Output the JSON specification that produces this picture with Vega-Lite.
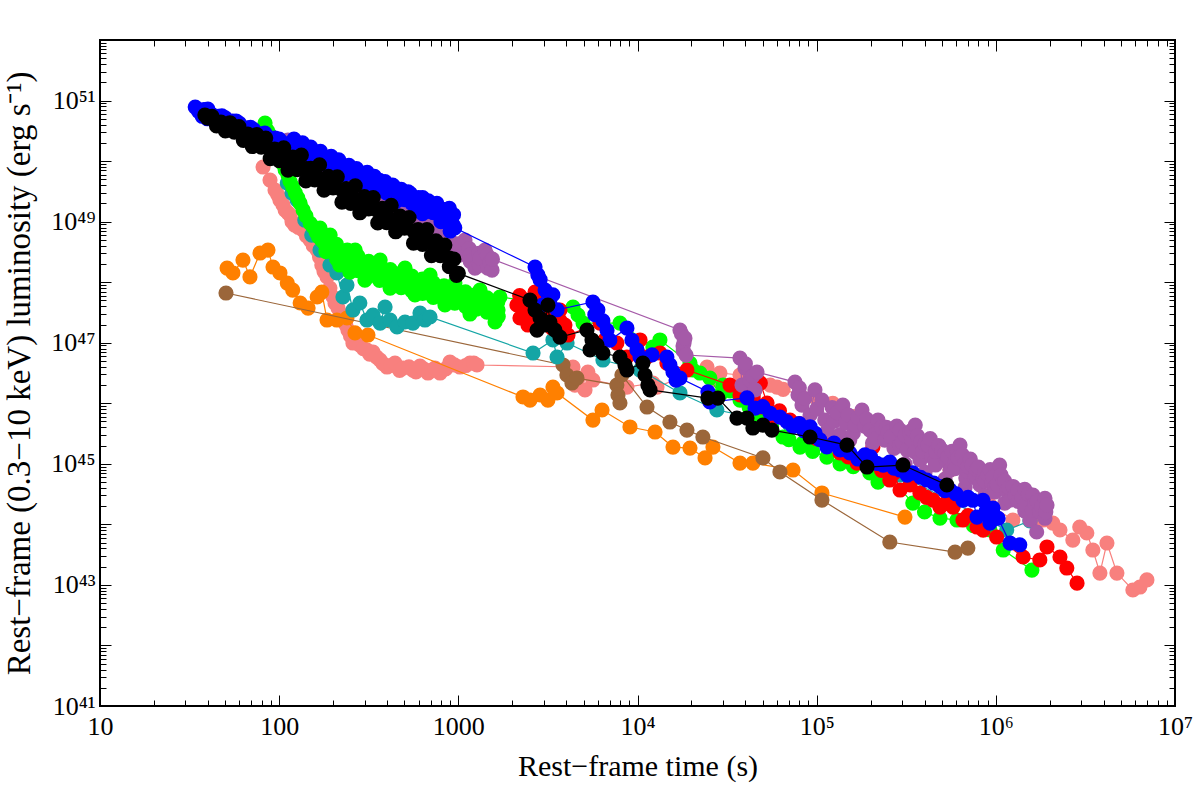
{
"$schema":"https://vega.github.io/schema/vega-lite/v6.json",
"width":1075,"height":666,
"autosize":{"type":"none"},
"padding":{"left":100,"top":40,"right":25,"bottom":84},
"background":"white",
"config":{"view":{"stroke":"black","strokeWidth":2},"axis":{"domain":false,"grid":false,"tickColor":"black","tickWidth":1,"labelColor":"black","titleColor":"black","labelFont":"Liberation Serif","titleFont":"Liberation Serif","titleFontWeight":"normal"}},
"datasets":{
"d":[
{"s":"salmon","t":81.3,"L":7.98e49},{"s":"salmon","t":88.9,"L":4.86e49},{"s":"salmon","t":94.8,"L":3.32e49},{"s":"salmon","t":98,"L":2.8e49},{"s":"salmon","t":101,"L":2.27e49},{"s":"salmon","t":105,"L":1.9e49},{"s":"salmon","t":108,"L":1.55e49},{"s":"salmon","t":112,"L":1.4e49},{"s":"salmon","t":115,"L":1.28e49},{"s":"salmon","t":118,"L":1.0e49},{"s":"salmon","t":122,"L":8.79e48},{"s":"salmon","t":128,"L":8.0e48},{"s":"salmon","t":136,"L":7.26e48},{"s":"salmon","t":142,"L":5.8e48},{"s":"salmon","t":149,"L":4.96e48},{"s":"salmon","t":155,"L":4.0e48},{"s":"salmon","t":163,"L":3.39e48},{"s":"salmon","t":168,"L":2.6e48},{"s":"salmon","t":173,"L":1.92e48},{"s":"salmon","t":178,"L":1.5e48},{"s":"salmon","t":185,"L":1.22e48},{"s":"salmon","t":192,"L":8.0e47},{"s":"salmon","t":200,"L":5.69e47},{"s":"salmon","t":205,"L":4.5e47},{"s":"salmon","t":213,"L":3.74e47},{"s":"salmon","t":220,"L":3.0e47},{"s":"salmon","t":227,"L":2.66e47},{"s":"salmon","t":235,"L":2.0e47},{"s":"salmon","t":242,"L":1.62e47},{"s":"salmon","t":250,"L":1.3e47},{"s":"salmon","t":258,"L":9.89e46},{"s":"salmon","t":270,"L":1.1e47},{"s":"salmon","t":282,"L":9.16e46},{"s":"salmon","t":295,"L":8.0e46},{"s":"salmon","t":309,"L":7.57e46},{"s":"salmon","t":320,"L":6.5e46},{"s":"salmon","t":334,"L":7.02e46},{"s":"salmon","t":350,"L":5.8e46},{"s":"salmon","t":366,"L":5.18e46},{"s":"salmon","t":380,"L":4.5e46},{"s":"salmon","t":400,"L":3.97e46},{"s":"salmon","t":420,"L":4.2e46},{"s":"salmon","t":443,"L":4.62e46},{"s":"salmon","t":470,"L":3.5e46},{"s":"salmon","t":491,"L":3.82e46},{"s":"salmon","t":530,"L":4.0e46},{"s":"salmon","t":558,"L":3.54e46},{"s":"salmon","t":580,"L":3.3e46},{"s":"salmon","t":611,"L":4.12e46},{"s":"salmon","t":640,"L":3.7e46},{"s":"salmon","t":677,"L":3.16e46},{"s":"salmon","t":710,"L":3.5e46},{"s":"salmon","t":741,"L":3.82e46},{"s":"salmon","t":791,"L":3.16e46},{"s":"salmon","t":850,"L":3.7e46},{"s":"salmon","t":898,"L":4.8e46},{"s":"salmon","t":950,"L":4.3e46},{"s":"salmon","t":1021,"L":3.97e46},{"s":"salmon","t":1100,"L":4.2e46},{"s":"salmon","t":1161,"L":4.62e46},{"s":"salmon","t":1220,"L":4.6e46},{"s":"salmon","t":1271,"L":4.29e46},
{"s":"salmon","t":4365,"L":3.97e46},{"s":"salmon","t":4477,"L":2.0e46},{"s":"salmon","t":4656,"L":2.61e46},{"s":"salmon","t":5093,"L":1.66e46},{"s":"salmon","t":5284,"L":3.28e46},{"s":"salmon","t":5640,"L":2.42e46},{"s":"salmon","t":8730,"L":1.85e46},{"s":"salmon","t":12190,"L":2.16e46},{"s":"salmon","t":12850,"L":1.85e46},{"s":"salmon","t":24430,"L":3.97e46},{"s":"salmon","t":27730,"L":2.42e46},{"s":"salmon","t":28840,"L":3.16e46},{"s":"salmon","t":37330,"L":2.93e46},{"s":"salmon","t":55000,"L":2.0e46},{"s":"salmon","t":60000,"L":1.85e46},{"s":"salmon","t":65000,"L":1.7e46},{"s":"salmon","t":80720,"L":1.37e46},{"s":"salmon","t":100000,"L":1.2e46},{"s":"salmon","t":123000,"L":1.0e46},{"s":"salmon","t":135000,"L":6.9e45},{"s":"salmon","t":160000,"L":6.0e45},{"s":"salmon","t":175000,"L":5.28e45},{"s":"salmon","t":234000,"L":4.06e45},{"s":"salmon","t":247000,"L":3.61e45},{"s":"salmon","t":300000,"L":3.0e45},{"s":"salmon","t":400000,"L":1.9e45},{"s":"salmon","t":555000,"L":7.9e44},{"s":"salmon","t":700000,"L":8.0e44},{"s":"salmon","t":927000,"L":2.1e44},{"s":"salmon","t":1245000,"L":1.18e44},{"s":"salmon","t":1500000,"L":1.6e44},{"s":"salmon","t":1830000,"L":1.18e44},{"s":"salmon","t":2080000,"L":1.05e44},{"s":"salmon","t":2280000,"L":8.07e43},{"s":"salmon","t":2690000,"L":5.5e43},{"s":"salmon","t":2940000,"L":9.04e43},{"s":"salmon","t":3220000,"L":7.2e43},{"s":"salmon","t":3480000,"L":3.77e43},{"s":"salmon","t":3810000,"L":1.57e43},{"s":"salmon","t":4170000,"L":4.92e43},{"s":"salmon","t":4740000,"L":1.57e43},{"s":"salmon","t":5820000,"L":8.24e42},{"s":"salmon","t":6370000,"L":9.23e42},{"s":"salmon","t":6970000,"L":1.21e43},

{"s":"orange","t":51.2,"L":1.71e48},{"s":"orange","t":55.2,"L":1.42e48},{"s":"orange","t":62.8,"L":2.32e48},{"s":"orange","t":68.7,"L":1.22e48},{"s":"orange","t":78.2,"L":3.03e48},{"s":"orange","t":86.6,"L":3.39e48},{"s":"orange","t":92.4,"L":1.78e48},{"s":"orange","t":101,"L":1.42e48},{"s":"orange","t":111,"L":9.68e47},{"s":"orange","t":119,"L":7.41e47},{"s":"orange","t":131,"L":4.53e47},{"s":"orange","t":145,"L":3.74e47},{"s":"orange","t":163,"L":5.69e47},{"s":"orange","t":173,"L":6.87e47},{"s":"orange","t":185,"L":2.37e47},{"s":"orange","t":210,"L":2.37e47},{"s":"orange","t":239,"L":2.56e47},{"s":"orange","t":265,"L":1.45e47},{"s":"orange","t":313,"L":1.34e47},{"s":"orange","t":2296,"L":1.27e46},{"s":"orange","t":2512,"L":1.13e46},{"s":"orange","t":2858,"L":1.37e46},{"s":"orange","t":3162,"L":1.13e46},{"s":"orange","t":3373,"L":1.85e46},{"s":"orange","t":3556,"L":1.48e46},{"s":"orange","t":5640,"L":5.28e45},{"s":"orange","t":6339,"L":7.74e45},{"s":"orange","t":9078,"L":4.06e45},{"s":"orange","t":12530,"L":3.35e45},{"s":"orange","t":15780,"L":1.89e45},{"s":"orange","t":19630,"L":1.82e45},{"s":"orange","t":23820,"L":1.25e45},{"s":"orange","t":26370,"L":1.89e45},{"s":"orange","t":37330,"L":1.03e45},{"s":"orange","t":44060,"L":1.03e45},{"s":"orange","t":73790,"L":7.9e44},{"s":"orange","t":107000,"L":3.3e44},{"s":"orange","t":311000,"L":1.32e44},

{"s":"brown","t":50.5,"L":6.62e47},{"s":"brown","t":3838,"L":4.29e46},{"s":"brown","t":4036,"L":2.93e46},{"s":"brown","t":4305,"L":2.16e46},{"s":"brown","t":4592,"L":2.61e46},{"s":"brown","t":7670,"L":2.0e46},{"s":"brown","t":7780,"L":1.37e46},{"s":"brown","t":7980,"L":1.01e46},{"s":"brown","t":8183,"L":2.93e46},{"s":"brown","t":11300,"L":8.67e45},{"s":"brown","t":15170,"L":4.9e45},{"s":"brown","t":18880,"L":3.61e45},{"s":"brown","t":23170,"L":2.77e45},{"s":"brown","t":50120,"L":1.25e45},{"s":"brown","t":62370,"L":7.33e44},{"s":"brown","t":107000,"L":2.52e44},{"s":"brown","t":256000,"L":5.11e43},{"s":"brown","t":592000,"L":3.49e43},{"s":"brown","t":698000,"L":4.06e43},

{"s":"cyan","t":111,"L":4.34e49},{"s":"cyan","t":118,"L":2.96e49},{"s":"cyan","t":126,"L":2.27e49},{"s":"cyan","t":139,"L":1.06e49},{"s":"cyan","t":152,"L":6.0e48},{"s":"cyan","t":169,"L":3.39e48},{"s":"cyan","t":192,"L":1.92e48},{"s":"cyan","t":210,"L":1.42e48},{"s":"cyan","t":227,"L":5.69e47},{"s":"cyan","t":239,"L":8.97e47},{"s":"cyan","t":258,"L":3.47e47},{"s":"cyan","t":282,"L":4.53e47},{"s":"cyan","t":309,"L":2.37e47},{"s":"cyan","t":334,"L":2.87e47},{"s":"cyan","t":366,"L":2.11e47},{"s":"cyan","t":390,"L":3.89e47},{"s":"cyan","t":416,"L":2.37e47},{"s":"cyan","t":455,"L":1.82e47},{"s":"cyan","t":504,"L":2.2e47},{"s":"cyan","t":558,"L":2.11e47},{"s":"cyan","t":611,"L":3.09e47},{"s":"cyan","t":651,"L":2.37e47},{"s":"cyan","t":695,"L":2.66e47},{"s":"cyan","t":2612,"L":6.76e46},{"s":"cyan","t":3373,"L":1.11e47},{"s":"cyan","t":3556,"L":5.81e46},{"s":"cyan","t":4045,"L":9.89e46},{"s":"cyan","t":6412,"L":5.18e46},{"s":"cyan","t":10330,"L":3.54e46},{"s":"cyan","t":17260,"L":1.48e46},{"s":"cyan","t":27730,"L":7.74e45},{"s":"cyan","t":70960,"L":4.37e45},{"s":"cyan","t":292000,"L":6.53e44},{"s":"cyan","t":1150000,"L":8.07e43},{"s":"cyan","t":1550000,"L":1.14e44},

{"s":"green","t":83.4,"L":4.25e50},{"s":"green","t":86,"L":3.2e50},{"s":"green","t":88.9,"L":2.69e50},{"s":"green","t":92,"L":2.0e50},{"s":"green","t":96,"L":1.52e50},{"s":"green","t":100,"L":1.2e50},{"s":"green","t":104,"L":9.27e49},{"s":"green","t":108,"L":7.2e49},{"s":"green","t":112,"L":5.87e49},{"s":"green","t":115,"L":4.6e49},{"s":"green","t":119,"L":3.75e49},{"s":"green","t":123,"L":3.0e49},{"s":"green","t":127,"L":2.47e49},{"s":"green","t":131,"L":2.0e49},{"s":"green","t":136,"L":1.55e49},{"s":"green","t":141,"L":1.25e49},{"s":"green","t":149,"L":9.38e48},{"s":"green","t":155,"L":8.2e48},{"s":"green","t":161,"L":6.65e48},{"s":"green","t":166,"L":5.6e48},{"s":"green","t":169,"L":7.84e48},{"s":"green","t":173,"L":4.91e48},{"s":"green","t":180,"L":4.3e48},{"s":"green","t":182,"L":5.5e48},{"s":"green","t":182.5,"L":3.2e48},{"s":"green","t":192,"L":3.66e48},{"s":"green","t":192.5,"L":6.0e48},{"s":"green","t":209,"L":4.2e48},{"s":"green","t":209.5,"L":2.4e48},{"s":"green","t":213,"L":3.03e48},{"s":"green","t":218,"L":1.92e48},{"s":"green","t":236,"L":2.5e48},{"s":"green","t":240,"L":3.4e48},{"s":"green","t":240.5,"L":1.95e48},{"s":"green","t":248,"L":1.47e48},{"s":"green","t":265,"L":2.15e48},{"s":"green","t":265.5,"L":3.39e48},{"s":"green","t":275,"L":2.7e48},{"s":"green","t":275.5,"L":1.55e48},{"s":"green","t":297,"L":1.85e48},{"s":"green","t":301,"L":1.08e48},{"s":"green","t":316,"L":2.2e48},{"s":"green","t":316.5,"L":1.26e48},{"s":"green","t":334,"L":1.58e48},{"s":"green","t":363,"L":1.86e48},{"s":"green","t":363.5,"L":1.07e48},{"s":"green","t":366,"L":2.32e48},{"s":"green","t":375,"L":1.42e48},{"s":"green","t":416,"L":8.0e47},{"s":"green","t":417,"L":1.62e48},{"s":"green","t":417.5,"L":9.3e47},{"s":"green","t":421,"L":1.26e48},{"s":"green","t":472,"L":1.13e48},{"s":"green","t":479,"L":1.41e48},{"s":"green","t":479.5,"L":8.1e47},{"s":"green","t":504,"L":1.71e48},{"s":"green","t":537,"L":1.0e48},{"s":"green","t":550,"L":1.26e48},{"s":"green","t":550.5,"L":7.2e47},{"s":"green","t":573,"L":6.14e47},{"s":"green","t":611,"L":8.97e47},{"s":"green","t":631,"L":1.12e48},{"s":"green","t":631.5,"L":6.5e47},{"s":"green","t":695,"L":8.0e47},{"s":"green","t":695.5,"L":1.31e48},{"s":"green","t":724,"L":9.8e47},{"s":"green","t":724.5,"L":5.6e47},{"s":"green","t":791,"L":7.14e47},{"s":"green","t":832,"L":8.7e47},{"s":"green","t":832.5,"L":5.0e47},{"s":"green","t":842,"L":4.2e47},{"s":"green","t":898,"L":6.37e47},{"s":"green","t":955,"L":7.8e47},{"s":"green","t":955.5,"L":4.5e47},{"s":"green","t":957,"L":9.68e47},{"s":"green","t":1021,"L":5.69e47},{"s":"green","t":1096,"L":6.9e47},{"s":"green","t":1096.5,"L":4.0e47},{"s":"green","t":1161,"L":5.07e47},{"s":"green","t":1161.5,"L":2.98e47},{"s":"green","t":1259,"L":6.3e47},{"s":"green","t":1259.5,"L":3.6e47},{"s":"green","t":1321,"L":4.53e47},{"s":"green","t":1321.5,"L":7.41e47},{"s":"green","t":1445,"L":5.5e47},{"s":"green","t":1445.5,"L":3.2e47},{"s":"green","t":1503,"L":4.04e47},{"s":"green","t":1603,"L":2.2e47},{"s":"green","t":1660,"L":4.7e47},{"s":"green","t":1665,"L":3.47e47},{"s":"green","t":1670,"L":2.7e47},{"s":"green","t":1706,"L":5.69e47},
{"s":"green","t":4365,"L":3.89e47},{"s":"green","t":4656,"L":2.87e47},{"s":"green","t":4966,"L":2.11e47},{"s":"green","t":7980,"L":2.11e47},{"s":"green","t":12190,"L":8.49e46},{"s":"green","t":13340,"L":1.11e47},{"s":"green","t":19630,"L":4.62e46},{"s":"green","t":20420,"L":3.54e46},{"s":"green","t":22330,"L":3.16e46},{"s":"green","t":25350,"L":2.61e46},{"s":"green","t":28840,"L":1.37e46},{"s":"green","t":30000,"L":2.0e46},{"s":"green","t":33000,"L":1.6e46},{"s":"green","t":37330,"L":1.13e46},{"s":"green","t":42000,"L":8.5e45},{"s":"green","t":48190,"L":5.28e45},{"s":"green","t":56000,"L":4.2e45},{"s":"green","t":64860,"L":2.77e45},{"s":"green","t":70000,"L":2.5e45},{"s":"green","t":80720,"L":1.89e45},{"s":"green","t":83750,"L":2.2e45},{"s":"green","t":95000,"L":1.6e45},{"s":"green","t":114000,"L":1.29e45},{"s":"green","t":135000,"L":1.0e45},{"s":"green","t":160000,"L":9.0e44},{"s":"green","t":198000,"L":7.05e44},{"s":"green","t":220000,"L":5.0e44},{"s":"green","t":256000,"L":6.05e44},{"s":"green","t":344000,"L":2.25e44},{"s":"green","t":400000,"L":1.6e44},{"s":"green","t":488000,"L":1.27e44},{"s":"green","t":607000,"L":1.18e44},{"s":"green","t":750000,"L":9.5e43},{"s":"green","t":927000,"L":8.07e43},{"s":"green","t":1100000,"L":3.77e43},{"s":"green","t":1590000,"L":1.76e43},

{"s":"red","t":2123,"L":4.2e47},{"s":"red","t":2200,"L":6.0e47},{"s":"red","t":2208,"L":2.56e47},{"s":"red","t":2300,"L":3.5e47},{"s":"red","t":2355,"L":5.07e47},{"s":"red","t":2447,"L":1.96e47},{"s":"red","t":2500,"L":2.8e47},{"s":"red","t":2600,"L":4.0e47},{"s":"red","t":2680,"L":6.87e47},{"s":"red","t":2900,"L":5.5e47},{"s":"red","t":3100,"L":2.5e47},{"s":"red","t":3334,"L":1.75e47},{"s":"red","t":3400,"L":3.0e47},{"s":"red","t":3690,"L":3.47e47},{"s":"red","t":3700,"L":2.3e47},{"s":"red","t":3935,"L":1.96e47},{"s":"red","t":4093,"L":1.34e47},{"s":"red","t":6180,"L":2.11e47},{"s":"red","t":6580,"L":1.11e47},{"s":"red","t":7670,"L":9.89e46},{"s":"red","t":8730,"L":5.81e46},{"s":"red","t":10330,"L":1.11e47},{"s":"red","t":11300,"L":5.81e46},{"s":"red","t":13340,"L":6.76e46},{"s":"red","t":14590,"L":4.62e46},{"s":"red","t":18880,"L":3.54e46},{"s":"red","t":32810,"L":2.0e46},{"s":"red","t":37330,"L":1.37e46},{"s":"red","t":40000,"L":1.6e46},{"s":"red","t":44000,"L":1.2e46},{"s":"red","t":48190,"L":8.67e45},{"s":"red","t":48500,"L":2.16e46},{"s":"red","t":52840,"L":1.01e46},{"s":"red","t":57020,"L":5.93e45},{"s":"red","t":62000,"L":7.5e45},{"s":"red","t":70960,"L":5.28e45},{"s":"red","t":80000,"L":4.6e45},{"s":"red","t":90000,"L":3.6e45},{"s":"red","t":100000,"L":2.6e45},{"s":"red","t":114000,"L":3.22e45},{"s":"red","t":125000,"L":2.4e45},{"s":"red","t":135000,"L":1.51e45},{"s":"red","t":150000,"L":1.3e45},{"s":"red","t":168000,"L":1.03e45},{"s":"red","t":190000,"L":1.2e45},{"s":"red","t":206000,"L":1.89e45},{"s":"red","t":230000,"L":7.8e44},{"s":"red","t":256000,"L":5.4e44},{"s":"red","t":270000,"L":7.0e44},{"s":"red","t":292000,"L":3.69e44},{"s":"red","t":332000,"L":4.47e44},{"s":"red","t":377000,"L":3.3e44},{"s":"red","t":410000,"L":2.8e44},{"s":"red","t":446000,"L":2.52e44},{"s":"red","t":488000,"L":1.93e44},{"s":"red","t":520000,"L":2.2e44},{"s":"red","t":555000,"L":2.52e44},{"s":"red","t":577000,"L":1.93e44},{"s":"red","t":655000,"L":1.18e44},{"s":"red","t":700000,"L":1.4e44},{"s":"red","t":785000,"L":9.04e43},{"s":"red","t":850000,"L":8.0e43},{"s":"red","t":1010000,"L":6.18e43},{"s":"red","t":1420000,"L":2.89e43},{"s":"red","t":1760000,"L":2.58e43},{"s":"red","t":1930000,"L":4.23e43},{"s":"red","t":2280000,"L":2.89e43},{"s":"red","t":2490000,"L":1.9e43},{"s":"red","t":2840000,"L":1.07e43},

{"s":"purple","t":112,"L":2.22e50},{"s":"purple","t":115,"L":1.26e50},{"s":"purple","t":122,"L":1.64e50},{"s":"purple","t":131,"L":1.41e50},{"s":"purple","t":131.5,"L":8.59e49},{"s":"purple","t":140,"L":1.1e50},{"s":"purple","t":140.5,"L":7.5e49},{"s":"purple","t":149,"L":1.04e50},{"s":"purple","t":169,"L":8.59e49},{"s":"purple","t":169.5,"L":6.58e49},{"s":"purple","t":180,"L":8.0e49},{"s":"purple","t":185,"L":5.5e49},{"s":"purple","t":205,"L":6.58e49},{"s":"purple","t":230,"L":5.5e49},{"s":"purple","t":235,"L":3.8e49},{"s":"purple","t":248,"L":4.86e49},{"s":"purple","t":280,"L":4.2e49},{"s":"purple","t":285,"L":2.8e49},{"s":"purple","t":301,"L":3.58e49},{"s":"purple","t":340,"L":2.9e49},{"s":"purple","t":345,"L":1.9e49},{"s":"purple","t":366,"L":2.27e49},{"s":"purple","t":410,"L":2.1e49},{"s":"purple","t":415,"L":1.4e49},{"s":"purple","t":443,"L":1.67e49},{"s":"purple","t":500,"L":1.6e49},{"s":"purple","t":505,"L":1.05e49},{"s":"purple","t":537,"L":1.28e49},{"s":"purple","t":600,"L":1.1e49},{"s":"purple","t":610,"L":7.2e48},{"s":"purple","t":651,"L":9.84e48},{"s":"purple","t":720,"L":8.5e48},{"s":"purple","t":730,"L":5.5e48},{"s":"purple","t":791,"L":6.0e48},{"s":"purple","t":842,"L":7.26e48},{"s":"purple","t":860,"L":5.8e48},{"s":"purple","t":870,"L":3.8e48},{"s":"purple","t":898,"L":4.96e48},{"s":"purple","t":957,"L":3.39e48},{"s":"purple","t":1000,"L":4.3e48},{"s":"purple","t":1010,"L":2.8e48},{"s":"purple","t":1021,"L":3.66e48},{"s":"purple","t":1089,"L":4.96e48},{"s":"purple","t":1150,"L":3.6e48},{"s":"purple","t":1161,"L":2.8e48},{"s":"purple","t":1165,"L":2.2e48},{"s":"purple","t":1239,"L":1.71e48},{"s":"purple","t":1300,"L":3.0e48},{"s":"purple","t":1310,"L":1.9e48},{"s":"purple","t":1321,"L":2.5e48},{"s":"purple","t":1409,"L":3.39e48},{"s":"purple","t":1450,"L":2.8e48},{"s":"purple","t":1460,"L":1.7e48},{"s":"purple","t":1503,"L":2.15e48},{"s":"purple","t":1542,"L":1.58e48},{"s":"purple","t":1550,"L":2.4e48},
{"s":"purple","t":17260,"L":1.62e47},{"s":"purple","t":17600,"L":1.4e47},{"s":"purple","t":17950,"L":8.8e46},{"s":"purple","t":18000,"L":7.4e46},{"s":"purple","t":18200,"L":1.0e47},{"s":"purple","t":18400,"L":1.19e47},{"s":"purple","t":18660,"L":6.26e46},{"s":"purple","t":37330,"L":5.58e46},{"s":"purple","t":38300,"L":2.0e46},{"s":"purple","t":39810,"L":3.82e46},{"s":"purple","t":40000,"L":4.5e46},{"s":"purple","t":42460,"L":2.42e46},{"s":"purple","t":44000,"L":2.8e46},{"s":"purple","t":45290,"L":1.66e46},{"s":"purple","t":46450,"L":3.28e46},{"s":"purple","t":75680,"L":2.24e46},{"s":"purple","t":78700,"L":1.37e46},{"s":"purple","t":80000,"L":1.8e46},{"s":"purple","t":82800,"L":9.35e45},{"s":"purple","t":86000,"L":1.2e46},{"s":"purple","t":91850,"L":6.4e45},{"s":"purple","t":97800,"L":1.66e46},{"s":"purple","t":100000,"L":8.0e45},{"s":"purple","t":107000,"L":1.13e46},{"s":"purple","t":111000,"L":5.28e45},{"s":"purple","t":115000,"L":3.5e45},{"s":"purple","t":122000,"L":8.5e45},{"s":"purple","t":125000,"L":5.0e45},{"s":"purple","t":130000,"L":7.0e45},{"s":"purple","t":135000,"L":3.0e45},{"s":"purple","t":140000,"L":9.35e45},{"s":"purple","t":145000,"L":4.8e45},{"s":"purple","t":150000,"L":6.4e45},{"s":"purple","t":153000,"L":2.47e45},{"s":"purple","t":160000,"L":3.2e45},{"s":"purple","t":164000,"L":4.37e45},{"s":"purple","t":170000,"L":5.8e45},{"s":"purple","t":179000,"L":7.74e45},{"s":"purple","t":185000,"L":4.2e45},{"s":"purple","t":190000,"L":5.5e45},{"s":"purple","t":198000,"L":3.61e45},{"s":"purple","t":205000,"L":2.2e45},{"s":"purple","t":210000,"L":3.0e45},{"s":"purple","t":215000,"L":2.6e45},{"s":"purple","t":220000,"L":5.28e45},{"s":"purple","t":230000,"L":4.0e45},{"s":"purple","t":240000,"L":2.47e45},{"s":"purple","t":245000,"L":4.0e45},{"s":"purple","t":250000,"L":3.3e45},{"s":"purple","t":260000,"L":2.8e45},{"s":"purple","t":270000,"L":1.8e45},{"s":"purple","t":280000,"L":4.2e45},{"s":"purple","t":290000,"L":2.0e45},{"s":"purple","t":292000,"L":3.61e45},{"s":"purple","t":300000,"L":2.3e45},{"s":"purple","t":311000,"L":2.95e45},{"s":"purple","t":311500,"L":1.0e45},{"s":"purple","t":320000,"L":1.69e45},{"s":"purple","t":330000,"L":3.3e45},{"s":"purple","t":340000,"L":2.47e45},{"s":"purple","t":341000,"L":3.6e45},{"s":"purple","t":353000,"L":1.58e45},{"s":"purple","t":355000,"L":4.37e45},{"s":"purple","t":365000,"L":2.9e45},{"s":"purple","t":377000,"L":1.16e45},{"s":"purple","t":380000,"L":2.3e45},{"s":"purple","t":390000,"L":1.6e45},{"s":"purple","t":402000,"L":2.09e45},{"s":"purple","t":402500,"L":7.2e44},{"s":"purple","t":418000,"L":2.04e45},{"s":"purple","t":430000,"L":2.6e45},{"s":"purple","t":440000,"L":1.3e45},{"s":"purple","t":457000,"L":1.12e45},{"s":"purple","t":460000,"L":9.55e44},{"s":"purple","t":461000,"L":1.6e45},{"s":"purple","t":480000,"L":2.0e45},{"s":"purple","t":500000,"L":1.69e45},{"s":"purple","t":520000,"L":1.48e45},{"s":"purple","t":520500,"L":5.6e44},{"s":"purple","t":530000,"L":1.1e45},{"s":"purple","t":540000,"L":1.3e45},{"s":"purple","t":555000,"L":7.9e44},{"s":"purple","t":570000,"L":1.6e45},{"s":"purple","t":590000,"L":1.0e45},{"s":"purple","t":592000,"L":8.3e44},{"s":"purple","t":610000,"L":1.6e45},{"s":"purple","t":615000,"L":1.25e45},{"s":"purple","t":631000,"L":2.04e45},{"s":"purple","t":650000,"L":1.4e45},{"s":"purple","t":673000,"L":1.05e45},{"s":"purple","t":673500,"L":4.1e44},{"s":"purple","t":680000,"L":5.82e44},{"s":"purple","t":690000,"L":7.5e44},{"s":"purple","t":700000,"L":9.0e44},{"s":"purple","t":720000,"L":1.2e45},{"s":"purple","t":736000,"L":9.55e44},{"s":"purple","t":764000,"L":5.9e44},{"s":"purple","t":770000,"L":6.5e44},{"s":"purple","t":780000,"L":8.0e44},{"s":"purple","t":800000,"L":8.8e44},{"s":"purple","t":815000,"L":4.47e44},{"s":"purple","t":850000,"L":5.8e44},{"s":"purple","t":869000,"L":7.4e44},{"s":"purple","t":869500,"L":3.0e44},{"s":"purple","t":870000,"L":5.2e44},{"s":"purple","t":904000,"L":6.53e44},{"s":"purple","t":930000,"L":8.0e44},{"s":"purple","t":950000,"L":4.8e44},{"s":"purple","t":960000,"L":6.0e44},{"s":"purple","t":989000,"L":4.2e44},{"s":"purple","t":990000,"L":3.42e44},{"s":"purple","t":1020000,"L":4.5e44},{"s":"purple","t":1050000,"L":9.55e44},{"s":"purple","t":1070000,"L":6.5e44},{"s":"purple","t":1100000,"L":5.4e44},{"s":"purple","t":1120000,"L":5.2e44},{"s":"purple","t":1121000,"L":2.24e44},{"s":"purple","t":1150000,"L":3.6e44},{"s":"purple","t":1180000,"L":4.0e44},{"s":"purple","t":1200000,"L":2.52e44},{"s":"purple","t":1250000,"L":4.2e44},{"s":"purple","t":1280000,"L":3.0e44},{"s":"purple","t":1330000,"L":3.69e44},{"s":"purple","t":1331000,"L":2.4e44},{"s":"purple","t":1400000,"L":2.8e44},{"s":"purple","t":1450000,"L":3.8e44},{"s":"purple","t":1451000,"L":1.66e44},{"s":"purple","t":1460000,"L":2.08e44},{"s":"purple","t":1520000,"L":3.2e44},{"s":"purple","t":1550000,"L":1.18e44},{"s":"purple","t":1600000,"L":1.7e44},{"s":"purple","t":1610000,"L":3.05e44},{"s":"purple","t":1650000,"L":2.24e44},{"s":"purple","t":1690000,"L":7.48e43},{"s":"purple","t":1700000,"L":2.4e44},{"s":"purple","t":1760000,"L":1.6e44},{"s":"purple","t":1800000,"L":2.0e44},{"s":"purple","t":1880000,"L":2.7e44},{"s":"purple","t":1881000,"L":1.26e44},{"s":"purple","t":1900000,"L":1.6e44},{"s":"purple","t":1930000,"L":2.08e44},

{"s":"blue","t":34,"L":7.8e50},{"s":"blue","t":35.5,"L":6.6e50},{"s":"blue","t":37.2,"L":5.5e50},{"s":"blue","t":38,"L":7.1e50},{"s":"blue","t":39.8,"L":5.0e50},{"s":"blue","t":40,"L":7.2e50},{"s":"blue","t":41.7,"L":6.0e50},{"s":"blue","t":43.7,"L":4.7e50},{"s":"blue","t":45.7,"L":5.5e50},{"s":"blue","t":47.9,"L":5.6e50},{"s":"blue","t":50,"L":5.2e50},{"s":"blue","t":52.5,"L":3.55e50},{"s":"blue","t":55,"L":4.6e50},{"s":"blue","t":56,"L":3.6e50},{"s":"blue","t":57.5,"L":4.6e50},{"s":"blue","t":60,"L":4.2e50},{"s":"blue","t":63.1,"L":3.0e50},{"s":"blue","t":66,"L":3.5e50},{"s":"blue","t":69.2,"L":3.6e50},{"s":"blue","t":72,"L":3.3e50},{"s":"blue","t":75.9,"L":2.24e50},{"s":"blue","t":79,"L":2.8e50},{"s":"blue","t":79.5,"L":2.3e50},{"s":"blue","t":83.2,"L":2.9e50},{"s":"blue","t":87,"L":2.5e50},{"s":"blue","t":91.2,"L":1.86e50},{"s":"blue","t":95,"L":2.4e50},{"s":"blue","t":100,"L":2.3e50},{"s":"blue","t":105,"L":2.0e50},{"s":"blue","t":110,"L":1.45e50},{"s":"blue","t":112,"L":1.51e50},{"s":"blue","t":115,"L":1.74e50},{"s":"blue","t":120,"L":1.86e50},{"s":"blue","t":121,"L":2.3e50},{"s":"blue","t":126,"L":1.58e50},{"s":"blue","t":132,"L":1.17e50},{"s":"blue","t":135,"L":2.0e50},{"s":"blue","t":138,"L":1.38e50},{"s":"blue","t":145,"L":1.48e50},{"s":"blue","t":150,"L":1.7e50},{"s":"blue","t":151,"L":1.26e50},{"s":"blue","t":158,"L":9.5e49},{"s":"blue","t":158.5,"L":8.9e49},{"s":"blue","t":166,"L":1.07e50},{"s":"blue","t":170,"L":1.45e50},{"s":"blue","t":174,"L":1.17e50},{"s":"blue","t":182,"L":9.5e49},{"s":"blue","t":191,"L":7.6e49},{"s":"blue","t":195,"L":1.2e50},{"s":"blue","t":200,"L":8.3e49},{"s":"blue","t":209,"L":9.5e49},{"s":"blue","t":215,"L":1.05e50},{"s":"blue","t":219,"L":7.4e49},{"s":"blue","t":224,"L":6.0e49},{"s":"blue","t":229,"L":5.9e49},{"s":"blue","t":240,"L":6.3e49},{"s":"blue","t":245,"L":8.5e49},{"s":"blue","t":251,"L":7.6e49},{"s":"blue","t":263,"L":5.8e49},{"s":"blue","t":270,"L":7.5e49},{"s":"blue","t":275,"L":5.0e49},{"s":"blue","t":288,"L":4.8e49},{"s":"blue","t":302,"L":6.0e49},{"s":"blue","t":310,"L":6.5e49},{"s":"blue","t":316,"L":4.4e49},{"s":"blue","t":318,"L":3.55e49},{"s":"blue","t":331,"L":3.8e49},{"s":"blue","t":340,"L":5.6e49},{"s":"blue","t":347,"L":3.6e49},{"s":"blue","t":363,"L":4.8e49},{"s":"blue","t":380,"L":3.3e49},{"s":"blue","t":390,"L":4.6e49},{"s":"blue","t":398,"L":2.95e49},{"s":"blue","t":417,"L":2.9e49},{"s":"blue","t":430,"L":4.0e49},{"s":"blue","t":437,"L":3.8e49},{"s":"blue","t":447,"L":2.14e49},{"s":"blue","t":457,"L":2.5e49},{"s":"blue","t":479,"L":2.4e49},{"s":"blue","t":480,"L":3.4e49},{"s":"blue","t":501,"L":2.3e49},{"s":"blue","t":525,"L":3.1e49},{"s":"blue","t":540,"L":2.9e49},{"s":"blue","t":550,"L":2.0e49},{"s":"blue","t":575,"L":1.86e49},{"s":"blue","t":600,"L":2.5e49},{"s":"blue","t":603,"L":1.78e49},{"s":"blue","t":631,"L":1.35e49},{"s":"blue","t":632,"L":2.5e49},{"s":"blue","t":661,"L":1.66e49},{"s":"blue","t":680,"L":2.2e49},{"s":"blue","t":692,"L":1.48e49},{"s":"blue","t":724,"L":1.41e49},{"s":"blue","t":740,"L":1.9e49},{"s":"blue","t":759,"L":2.0e49},{"s":"blue","t":794,"L":1.32e49},{"s":"blue","t":800,"L":1.0e49},{"s":"blue","t":820,"L":1.6e49},{"s":"blue","t":832,"L":1.2e49},{"s":"blue","t":851,"L":1.12e49},{"s":"blue","t":880,"L":1.5e49},{"s":"blue","t":891,"L":1.66e49},{"s":"blue","t":900,"L":7.0e48},{"s":"blue","t":912,"L":1.05e49},{"s":"blue","t":933,"L":8.9e48},{"s":"blue","t":940,"L":1.3e49},{"s":"blue","t":955,"L":7.9e48},
{"s":"blue","t":2680,"L":1.78e48},{"s":"blue","t":2780,"L":1.32e48},{"s":"blue","t":2860,"L":1.1e48},{"s":"blue","t":2950,"L":4.2e47},{"s":"blue","t":3050,"L":7.4e47},{"s":"blue","t":3240,"L":5.1e47},{"s":"blue","t":3370,"L":6.2e47},{"s":"blue","t":3560,"L":3.5e47},{"s":"blue","t":5640,"L":4.7e47},{"s":"blue","t":5780,"L":2.9e47},{"s":"blue","t":6010,"L":3.5e47},{"s":"blue","t":6410,"L":2.3e47},{"s":"blue","t":6760,"L":1.6e47},{"s":"blue","t":7010,"L":1.1e47},{"s":"blue","t":8730,"L":1.74e47},{"s":"blue","t":9310,"L":1.1e47},{"s":"blue","t":9930,"L":7.6e46},{"s":"blue","t":10330,"L":5.8e46},{"s":"blue","t":12050,"L":6.3e46},{"s":"blue","t":14590,"L":5.8e46},{"s":"blue","t":15170,"L":4.3e46},{"s":"blue","t":15780,"L":3.3e46},{"s":"blue","t":16410,"L":2.4e46},{"s":"blue","t":17260,"L":2.6e46},{"s":"blue","t":24720,"L":1.55e46},{"s":"blue","t":25350,"L":1.05e46},{"s":"blue","t":40830,"L":1.23e46},{"s":"blue","t":45290,"L":8.3e45},{"s":"blue","t":50000,"L":8.8e45},{"s":"blue","t":55000,"L":6.8e45},{"s":"blue","t":62370,"L":5.9e45},{"s":"blue","t":68000,"L":5.0e45},{"s":"blue","t":73790,"L":4.1e45},{"s":"blue","t":80000,"L":4.6e45},{"s":"blue","t":85000,"L":3.5e45},{"s":"blue","t":91850,"L":4.1e45},{"s":"blue","t":98000,"L":3.2e45},{"s":"blue","t":104000,"L":2.5e45},{"s":"blue","t":114000,"L":1.9e45},{"s":"blue","t":125000,"L":2.2e45},{"s":"blue","t":135000,"L":1.7e45},{"s":"blue","t":153000,"L":1.51e45},{"s":"blue","t":170000,"L":1.2e45},{"s":"blue","t":186000,"L":1.41e45},{"s":"blue","t":200000,"L":1.3e45},{"s":"blue","t":217000,"L":1.02e45},{"s":"blue","t":235000,"L":9.5e44},{"s":"blue","t":256000,"L":1.07e45},{"s":"blue","t":270000,"L":8.5e44},{"s":"blue","t":292000,"L":7.9e44},{"s":"blue","t":320000,"L":6.5e44},{"s":"blue","t":344000,"L":7.1e44},{"s":"blue","t":380000,"L":6.0e44},{"s":"blue","t":412000,"L":5.4e44},{"s":"blue","t":450000,"L":4.8e44},{"s":"blue","t":488000,"L":4.2e44},{"s":"blue","t":520000,"L":3.6e44},{"s":"blue","t":555000,"L":3.7e44},{"s":"blue","t":600000,"L":3.2e44},{"s":"blue","t":655000,"L":2.5e44},{"s":"blue","t":700000,"L":2.8e44},{"s":"blue","t":745000,"L":2.5e44},{"s":"blue","t":785000,"L":1.32e44},{"s":"blue","t":847000,"L":2.5e44},{"s":"blue","t":880000,"L":1.6e44},{"s":"blue","t":927000,"L":1.05e44},{"s":"blue","t":964000,"L":1.86e44},{"s":"blue","t":1030000,"L":1.26e44},{"s":"blue","t":1200000,"L":4.9e43},{"s":"blue","t":1360000,"L":4.6e43},

{"s":"black","t":38.5,"L":5.75e50},{"s":"black","t":39.8,"L":5.1e50},{"s":"black","t":42.2,"L":5.5e50},{"s":"black","t":44.7,"L":3.8e50},{"s":"black","t":44.8,"L":4.4e50},{"s":"black","t":47.3,"L":4.4e50},{"s":"black","t":50.1,"L":3.16e50},{"s":"black","t":50.2,"L":3.8e50},{"s":"black","t":53.1,"L":4.3e50},{"s":"black","t":56.2,"L":3.0e50},{"s":"black","t":56.3,"L":3.24e50},{"s":"black","t":59.6,"L":3.7e50},{"s":"black","t":63.1,"L":2.2e50},{"s":"black","t":63.2,"L":2.72e50},{"s":"black","t":66.8,"L":2.8e50},{"s":"black","t":70.8,"L":1.74e50},{"s":"black","t":70.9,"L":2.28e50},{"s":"black","t":75,"L":2.75e50},{"s":"black","t":79.4,"L":1.7e50},{"s":"black","t":79.5,"L":1.88e50},{"s":"black","t":84.1,"L":2.4e50},{"s":"black","t":89.1,"L":1.1e50},{"s":"black","t":89.2,"L":1.55e50},{"s":"black","t":94.4,"L":1.58e50},{"s":"black","t":100,"L":1.02e50},{"s":"black","t":100.5,"L":1.28e50},{"s":"black","t":106,"L":1.66e50},{"s":"black","t":112,"L":7.1e49},{"s":"black","t":112.5,"L":1.08e50},{"s":"black","t":119,"L":1.17e50},{"s":"black","t":126,"L":7.2e49},{"s":"black","t":126.5,"L":9.1e49},{"s":"black","t":133,"L":1.26e50},{"s":"black","t":141,"L":4.7e49},{"s":"black","t":141.5,"L":7.5e49},{"s":"black","t":150,"L":7.6e49},{"s":"black","t":158,"L":4.9e49},{"s":"black","t":158.5,"L":6.1e49},{"s":"black","t":168,"L":8.7e49},{"s":"black","t":178,"L":3.3e49},{"s":"black","t":178.5,"L":5.0e49},{"s":"black","t":188,"L":5.6e49},{"s":"black","t":200,"L":3.6e49},{"s":"black","t":200.5,"L":4.1e49},{"s":"black","t":211,"L":5.5e49},{"s":"black","t":224,"L":2.1e49},{"s":"black","t":224.5,"L":3.3e49},{"s":"black","t":237,"L":3.5e49},{"s":"black","t":251,"L":2.0e49},{"s":"black","t":251.5,"L":2.7e49},{"s":"black","t":266,"L":3.9e49},{"s":"black","t":282,"L":1.4e49},{"s":"black","t":282.5,"L":2.2e49},{"s":"black","t":299,"L":2.6e49},{"s":"black","t":316,"L":1.62e49},{"s":"black","t":316.5,"L":1.83e49},{"s":"black","t":335,"L":2.5e49},{"s":"black","t":355,"L":9.5e48},{"s":"black","t":355.5,"L":1.51e49},{"s":"black","t":376,"L":1.66e49},{"s":"black","t":398,"L":9.6e48},{"s":"black","t":398.5,"L":1.27e49},{"s":"black","t":422,"L":1.86e49},{"s":"black","t":447,"L":6.8e48},{"s":"black","t":447.5,"L":1.07e49},{"s":"black","t":473,"L":1.23e49},{"s":"black","t":501,"L":7.8e48},{"s":"black","t":501.5,"L":8.7e48},{"s":"black","t":531,"L":1.17e49},{"s":"black","t":562,"L":4.4e48},{"s":"black","t":562.5,"L":7.0e48},{"s":"black","t":596,"L":7.4e48},{"s":"black","t":631,"L":4.2e48},{"s":"black","t":631.5,"L":5.5e48},{"s":"black","t":668,"L":7.4e48},{"s":"black","t":708,"L":2.75e48},{"s":"black","t":708.5,"L":4.4e48},{"s":"black","t":750,"L":4.8e48},{"s":"black","t":794,"L":2.75e48},{"s":"black","t":794.5,"L":3.3e48},{"s":"black","t":841,"L":4.1e48},{"s":"black","t":891,"L":1.8e48},{"s":"black","t":891.5,"L":2.5e48},{"s":"black","t":944,"L":2.4e48},{"s":"black","t":977,"L":1.29e48},{"s":"black","t":1000,"L":1.4e48},
{"s":"black","t":2512,"L":5.07e47},{"s":"black","t":2680,"L":3.47e47},{"s":"black","t":2750,"L":1.62e47},{"s":"black","t":2858,"L":2.56e47},{"s":"black","t":3048,"L":1.96e47},{"s":"black","t":3162,"L":4.17e47},{"s":"black","t":3245,"L":2.2e47},{"s":"black","t":3460,"L":1.62e47},{"s":"black","t":3690,"L":1.24e47},{"s":"black","t":5224,"L":1.62e47},{"s":"black","t":5433,"L":7.59e46},{"s":"black","t":5572,"L":1.11e47},{"s":"black","t":5943,"L":9.16e46},{"s":"black","t":6412,"L":6.76e46},{"s":"black","t":7980,"L":5.81e46},{"s":"black","t":8511,"L":4.29e46},{"s":"black","t":8730,"L":3.54e46},{"s":"black","t":10720,"L":4.62e46},{"s":"black","t":11010,"L":2.93e46},{"s":"black","t":11430,"L":2.0e46},{"s":"black","t":11750,"L":1.66e46},{"s":"black","t":24720,"L":1.22e46},{"s":"black","t":28100,"L":1.22e46},{"s":"black","t":35890,"L":5.7e45},{"s":"black","t":40830,"L":5.7e45},{"s":"black","t":44060,"L":3.9e45},{"s":"black","t":50120,"L":4.37e45},{"s":"black","t":56250,"L":3.61e45},{"s":"black","t":91850,"L":2.77e45},{"s":"black","t":147600,"L":2.04e45},{"s":"black","t":191000,"L":8.85e44},{"s":"black","t":303000,"L":9.55e44},{"s":"black","t":533000,"L":4.47e44}
]},
"data":{"name":"d"},
"encoding":{
"x":{"field":"t","type":"quantitative","scale":{"type":"log","domain":[10,10000000],"nice":false},"axis":null},
"y":{"field":"L","type":"quantitative","scale":{"type":"log","domain":[1e41,1e52],"nice":false},"axis":null},
"color":{"field":"s","type":"nominal","legend":null,"scale":{"domain":["salmon","orange","brown","cyan","green","red","purple","blue","black"],"range":["#f8807e","#ff8000","#9b663a","#14a5a5","#00ff00","#ff0000","#a55aa8","#0000ff","#000000"]}}
},
"layer":[
{"mark":{"type":"point","opacity":0},
"encoding":{
"x":{"field":"t","type":"quantitative","scale":{"type":"log","domain":[10,10000000],"nice":false},
"axis":{"orient":"bottom","values":[10,20,30,40,50,60,70,80,90,100,200,300,400,500,600,700,800,900,1000,2000,3000,4000,5000,6000,7000,8000,9000,10000,20000,30000,40000,50000,60000,70000,80000,90000,100000,200000,300000,400000,500000,600000,700000,800000,900000,1000000,2000000,3000000,4000000,5000000,6000000,7000000,8000000,9000000,10000000],
"labelExpr":"datum.value==10?'10':datum.value==100?'100':datum.value==1000?'1000':datum.value==10000?'10⁴':datum.value==100000?'10⁵':datum.value==1000000?'10⁶':datum.value==10000000?'10⁷':''",
"tickSize":{"condition":{"test":"abs(log(datum.value)/LN10-round(log(datum.value)/LN10))<0.001","value":-11},"value":-6},
"labelPadding":18,"labelFontSize":26,"labelFlush":false,"labelOverlap":false,
"title":"Rest−frame  time (s)","titleFontSize":30,"titleY":45,"titleBaseline":"top"}},
"y":{"field":"L","type":"quantitative","scale":{"type":"log","domain":[1e41,1e52],"nice":false},
"axis":{"orient":"left","values":[1e41,2e41,3e41,4e41,5e41,6e41,7e41,8e41,9e41,1e42,2e42,3e42,4e42,5e42,6e42,7e42,8e42,9e42,1e43,2e43,3e43,4e43,5e43,6e43,7e43,8e43,9e43,1e44,2e44,3e44,4e44,5e44,6e44,7e44,8e44,9e44,1e45,2e45,3e45,4e45,5e45,6e45,7e45,8e45,9e45,1e46,2e46,3e46,4e46,5e46,6e46,7e46,8e46,9e46,1e47,2e47,3e47,4e47,5e47,6e47,7e47,8e47,9e47,1e48,2e48,3e48,4e48,5e48,6e48,7e48,8e48,9e48,1e49,2e49,3e49,4e49,5e49,6e49,7e49,8e49,9e49,1e50,2e50,3e50,4e50,5e50,6e50,7e50,8e50,9e50,1e51,2e51,3e51,4e51,5e51,6e51,7e51,8e51,9e51,1e52],
"labelExpr":"datum.value==1e41?'10⁴¹':datum.value==1e43?'10⁴³':datum.value==1e45?'10⁴⁵':datum.value==1e47?'10⁴⁷':datum.value==1e49?'10⁴⁹':datum.value==1e51?'10⁵¹':''",
"tickSize":{"condition":{"test":"abs(log(datum.value)/LN10-round(log(datum.value)/LN10))<0.001","value":-11},"value":-6},
"labelPadding":16,"labelFontSize":26,"labelFlush":false,"labelOverlap":false,
"title":"Rest−frame  (0.3−10 keV) luminosity  (erg s⁻¹)","titleFontSize":33,"titleAngle":-90,"titleX":-64,"titleY":333,"titleAlign":"center","titleBaseline":"bottom"}}
}},
{"mark":{"type":"point","opacity":0},
"encoding":{
"x":{"field":"t","type":"quantitative","scale":{"type":"log","domain":[10,10000000],"nice":false},
"axis":{"orient":"top","values":[10,20,30,40,50,60,70,80,90,100,200,300,400,500,600,700,800,900,1000,2000,3000,4000,5000,6000,7000,8000,9000,10000,20000,30000,40000,50000,60000,70000,80000,90000,100000,200000,300000,400000,500000,600000,700000,800000,900000,1000000,2000000,3000000,4000000,5000000,6000000,7000000,8000000,9000000,10000000],"labels":false,"title":null,
"tickSize":{"condition":{"test":"abs(log(datum.value)/LN10-round(log(datum.value)/LN10))<0.001","value":-11},"value":-6}}},
"y":{"field":"L","type":"quantitative","scale":{"type":"log","domain":[1e41,1e52],"nice":false},
"axis":{"orient":"right","values":[1e41,2e41,3e41,4e41,5e41,6e41,7e41,8e41,9e41,1e42,2e42,3e42,4e42,5e42,6e42,7e42,8e42,9e42,1e43,2e43,3e43,4e43,5e43,6e43,7e43,8e43,9e43,1e44,2e44,3e44,4e44,5e44,6e44,7e44,8e44,9e44,1e45,2e45,3e45,4e45,5e45,6e45,7e45,8e45,9e45,1e46,2e46,3e46,4e46,5e46,6e46,7e46,8e46,9e46,1e47,2e47,3e47,4e47,5e47,6e47,7e47,8e47,9e47,1e48,2e48,3e48,4e48,5e48,6e48,7e48,8e48,9e48,1e49,2e49,3e49,4e49,5e49,6e49,7e49,8e49,9e49,1e50,2e50,3e50,4e50,5e50,6e50,7e50,8e50,9e50,1e51,2e51,3e51,4e51,5e51,6e51,7e51,8e51,9e51,1e52],"labels":false,"title":null,
"tickSize":{"condition":{"test":"abs(log(datum.value)/LN10-round(log(datum.value)/LN10))<0.001","value":-11},"value":-6}}}
}},
{"transform":[{"filter":"datum.s==='salmon'"}],"layer":[{"mark":{"type":"line","strokeWidth":1.2}},{"mark":{"type":"circle","size":230,"opacity":1}}]},
{"transform":[{"filter":"datum.s==='orange'"}],"layer":[{"mark":{"type":"line","strokeWidth":1.2}},{"mark":{"type":"circle","size":230,"opacity":1}}]},
{"transform":[{"filter":"datum.s==='brown'"}],"layer":[{"mark":{"type":"line","strokeWidth":1.2}},{"mark":{"type":"circle","size":230,"opacity":1}}]},
{"transform":[{"filter":"datum.s==='cyan'"}],"layer":[{"mark":{"type":"line","strokeWidth":1.2}},{"mark":{"type":"circle","size":230,"opacity":1}}]},
{"transform":[{"filter":"datum.s==='green'"}],"layer":[{"mark":{"type":"line","strokeWidth":1.2}},{"mark":{"type":"circle","size":230,"opacity":1}}]},
{"transform":[{"filter":"datum.s==='red'"}],"layer":[{"mark":{"type":"line","strokeWidth":1.2}},{"mark":{"type":"circle","size":230,"opacity":1}}]},
{"transform":[{"filter":"datum.s==='purple'"}],"layer":[{"mark":{"type":"line","strokeWidth":1.2}},{"mark":{"type":"circle","size":230,"opacity":1}}]},
{"transform":[{"filter":"datum.s==='blue'"}],"layer":[{"mark":{"type":"line","strokeWidth":1.2}},{"mark":{"type":"circle","size":230,"opacity":1}}]},
{"transform":[{"filter":"datum.s==='black'"}],"layer":[{"mark":{"type":"line","strokeWidth":1.2}},{"mark":{"type":"circle","size":230,"opacity":1}}]}
],
"resolve":{"axis":{"x":"independent","y":"independent"}}
}
